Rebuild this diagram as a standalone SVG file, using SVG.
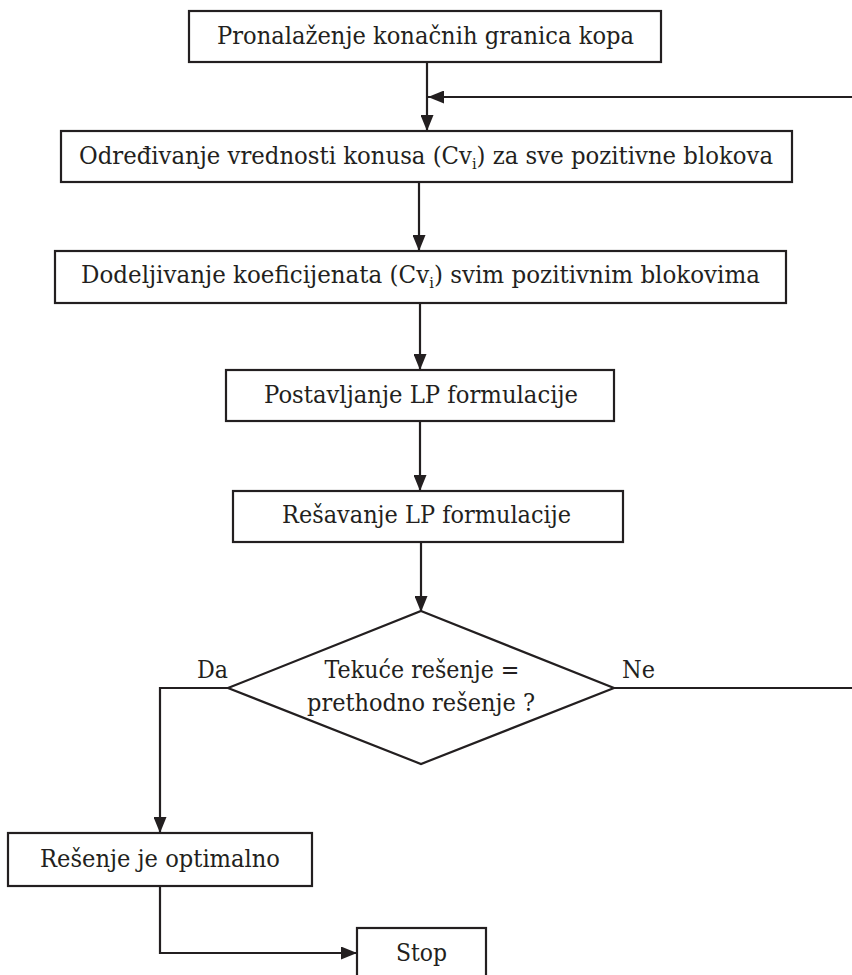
<svg xmlns="http://www.w3.org/2000/svg" width="852" height="975" viewBox="0 0 852 975">
<style>
.box{fill:#fff;stroke:#231f20;stroke-width:2.2}
.t{font-family:"DejaVu Serif","Liberation Serif",serif;font-size:23.5px;fill:#231f20;text-anchor:middle}
.lbl{font-family:"DejaVu Serif","Liberation Serif",serif;font-size:23.5px;fill:#231f20}
.sub{font-size:15px;baseline-shift:-5px}
.c{fill:none;stroke:#231f20;stroke-width:2.2}
</style>
<defs>
<marker id="ah" markerUnits="userSpaceOnUse" markerWidth="16" markerHeight="13" refX="16" refY="6.5" orient="auto">
<path d="M0,0 L16,6.5 L0,13 z" fill="#231f20"/>
</marker>
</defs>
<g id="connectors">
<path class="c" d="M427,62 V131" marker-end="url(#ah)"/>
<path class="c" d="M852,97 H428" marker-end="url(#ah)"/>
<path class="c" d="M419,182 V251" marker-end="url(#ah)"/>
<path class="c" d="M420,303 V370" marker-end="url(#ah)"/>
<path class="c" d="M420,421 V491" marker-end="url(#ah)"/>
<path class="c" d="M421,542 V612" marker-end="url(#ah)"/>
<path class="c" d="M228,688 H160 V833" marker-end="url(#ah)"/>
<path class="c" d="M614,688 H852"/>
<path class="c" d="M160,886 V953 H357" marker-end="url(#ah)"/>
</g>
<g id="n1">
<rect class="box" x="189" y="11" width="472" height="51"/>
<text class="t" x="425.5" y="44" textLength="417" lengthAdjust="spacingAndGlyphs">Pronalaženje konačnih granica kopa</text>
</g>
<g id="n2">
<rect class="box" x="61" y="131" width="731" height="51"/>
<text class="t" x="426" y="164" textLength="694" lengthAdjust="spacingAndGlyphs">Određivanje vrednosti konusa (Cv<tspan class="sub">i</tspan>) za sve pozitivne blokova</text>
</g>
<g id="n3">
<rect class="box" x="55" y="251" width="731" height="52"/>
<text class="t" x="420.5" y="283" textLength="679" lengthAdjust="spacingAndGlyphs">Dodeljivanje koeficijenata (Cv<tspan class="sub">i</tspan>) svim pozitivnim blokovima</text>
</g>
<g id="n4">
<rect class="box" x="226" y="370" width="388" height="51"/>
<text class="t" x="421" y="403" textLength="314" lengthAdjust="spacingAndGlyphs">Postavljanje LP formulacije</text>
</g>
<g id="n5">
<rect class="box" x="233" y="491" width="390" height="51"/>
<text class="t" x="426.5" y="523" textLength="289" lengthAdjust="spacingAndGlyphs">Rešavanje LP formulacije</text>
</g>
<g id="n6">
<polygon class="box" points="421,611 614,688 421,764 228,688"/>
<text class="t" x="422" y="678" textLength="195" lengthAdjust="spacingAndGlyphs">Tekuće rešenje =</text>
<text class="t" x="421" y="711" textLength="228" lengthAdjust="spacingAndGlyphs">prethodno rešenje ?</text>
</g>
<text class="lbl" x="197" y="678" textLength="31" lengthAdjust="spacingAndGlyphs">Da</text>
<text class="lbl" x="622" y="678" textLength="33" lengthAdjust="spacingAndGlyphs">Ne</text>
<g id="n7">
<rect class="box" x="8" y="833" width="304" height="53"/>
<text class="t" x="160" y="867" textLength="240" lengthAdjust="spacingAndGlyphs">Rešenje je optimalno</text>
</g>
<g id="n8">
<rect class="box" x="357" y="928" width="129" height="60"/>
<text class="t" x="421.5" y="961" textLength="51" lengthAdjust="spacingAndGlyphs">Stop</text>
</g>
</svg>
